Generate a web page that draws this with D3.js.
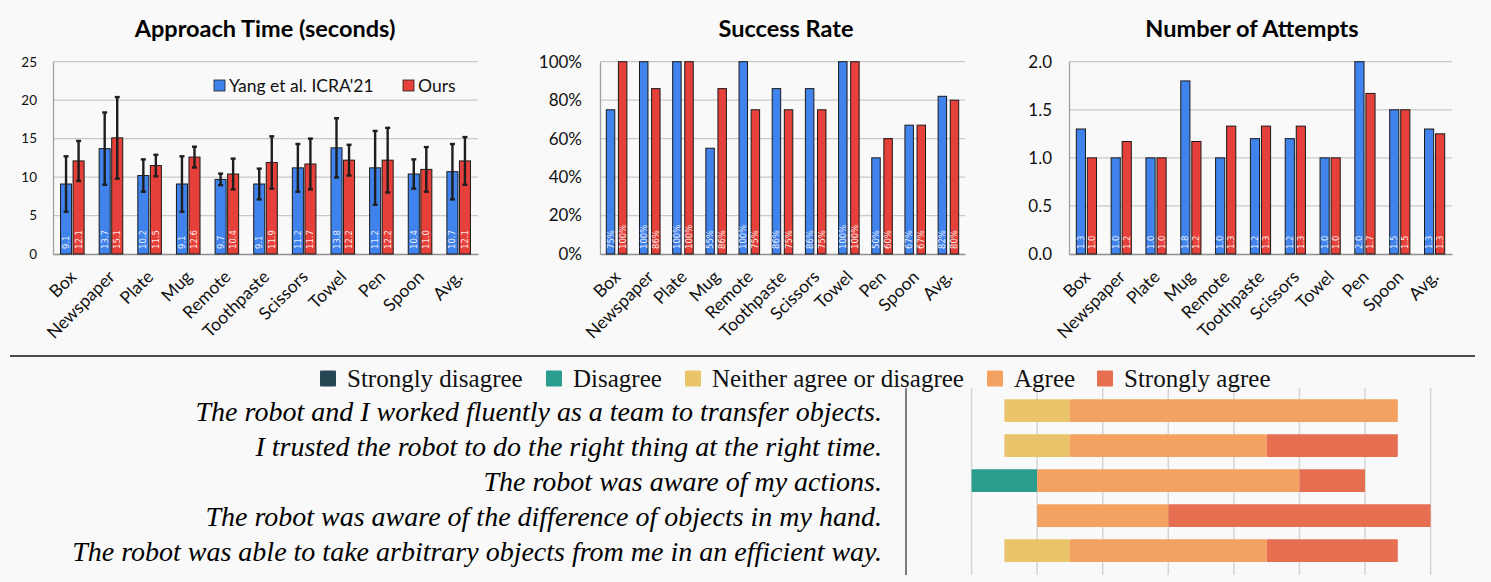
<!DOCTYPE html>
<html>
<head>
<meta charset="utf-8">
<script src="https://cdn.jsdelivr.net/npm/d3@7"></script>
<style>
  body { margin: 0; background: #f9f9f9; }
  svg { display: block; }
</style>
</head>
<body>
<div id="chart"></div>
<script>
// object categories shared by the three bar charts
var objects = ["Box", "Newspaper", "Plate", "Mug", "Remote", "Toothpaste", "Scissors", "Towel", "Pen", "Spoon", "Avg."];
var seriesNames = ["Yang et al. ICRA'21", "Ours"];

var timeYang = [9.1, 13.7, 10.2, 9.1, 9.7, 9.1, 11.2, 13.8, 11.2, 10.4, 10.7];
var timeOurs = [12.1, 15.1, 11.5, 12.6, 10.4, 11.9, 11.7, 12.2, 12.2, 11.0, 12.1];
var timeYangErr = [3.6, 4.7, 2.1, 3.6, 0.75, 2.0, 3.1, 3.85, 4.8, 1.9, 3.6];
var timeOursErr = [2.6, 5.3, 1.4, 1.35, 2.0, 3.4, 3.3, 2.0, 4.2, 2.9, 3.1];
var timeTicks = [0, 5, 10, 15, 20, 25];

var successYang = [75, 100, 100, 55, 100, 86, 86, 100, 50, 67, 82];
var successOurs = [100, 86, 100, 86, 75, 75, 75, 100, 60, 67, 80];
var successTicks = [0, 20, 40, 60, 80, 100];

var attemptsYang = [1.3, 1.0, 1.0, 1.8, 1.0, 1.2, 1.2, 1.0, 2.0, 1.5, 1.3];
var attemptsOurs = [1.0, 1.17, 1.0, 1.17, 1.33, 1.33, 1.33, 1.0, 1.67, 1.5, 1.25];
var attemptsTicks = [0, 0.5, 1.0, 1.5, 2.0];

// questionnaire (counts of participants)
var statements = [
    "The robot and I worked fluently as a team to transfer objects.",
    "I trusted the robot to do the right thing at the right time.",
    "The robot was aware of my actions.",
    "The robot was aware of the difference of objects in my hand.",
    "The robot was able to take arbitrary objects from me in an efficient way."
];
var likertLevels = ["Strongly disagree", "Disagree", "Neither agree or disagree", "Agree", "Strongly agree"];
var strongDisagree = [0, 0, 0, 0, 0];
var disagree = [0, 0, 1, 0, 0];
var neutral = [1, 1, 0, 0, 1];
var agree = [5, 3, 4, 2, 3];
var strongAgree = [0, 2, 1, 4, 2];
var likertTicks = [-1, 0, 1, 2, 3, 4, 5, 6];

var W = 1491, H = 582;
var blue = "#4083ec", red = "#e6403a";
var sans = "Lato, 'Open Sans', sans-serif";
var serif = "'Liberation Serif', 'Times New Roman', serif";

var svg = d3.select("#chart").append("svg")
    .attr("width", W)
    .attr("height", H);

svg.append("rect").attr("width", W).attr("height", H).attr("fill", "#f9f9f9");

var config = [{
        title: "Approach Time (seconds)", titleX: 265,
        left: 53, right: 478, yang: timeYang, ours: timeOurs,
        yangErr: timeYangErr, oursErr: timeOursErr,
        max: 25, ticks: timeTicks, tickFmt: d3.format("d"), tickSize: 13.5, tickPad: 16,
        labelFmt: d3.format(".1f"), padInner: 0.39, gap: 0.12, legend: true
    },
    {
        title: "Success Rate", titleX: 786,
        left: 600, right: 965, yang: successYang, ours: successOurs,
        max: 100, ticks: successTicks, tickFmt: function (d) { return d + "%"; }, tickSize: 17, tickPad: 18,
        labelFmt: function (d) { return d + "%"; }, padInner: 0.38, gap: 0.3, legend: false
    },
    {
        title: "Number of Attempts", titleX: 1252,
        left: 1069, right: 1452, yang: attemptsYang, ours: attemptsOurs,
        max: 2, ticks: attemptsTicks, tickFmt: d3.format(".1f"), tickSize: 17, tickPad: 17,
        labelFmt: d3.format(".1f"), padInner: 0.42, gap: 0.17, legend: false
    }
];

var top0 = 61.7, base = 254;

function drawBars(c) {
    var g = svg.append("g");

    var x = d3.scaleBand().domain(objects).range([c.left, c.right])
        .paddingInner(c.padInner).paddingOuter(c.padInner / 2);
    var x1 = d3.scaleBand().domain([0, 1]).range([0, x.bandwidth()]).paddingInner(c.gap);
    var y = d3.scaleLinear().domain([0, c.max]).range([base, top0]);

    // title
    g.append("text")
        .attr("x", c.titleX).attr("y", 37)
        .attr("text-anchor", "middle")
        .style("font-family", sans).style("font-weight", "bold").style("font-size", "23.5px")
        .attr("fill", "#000")
        .text(c.title);

    // grid
    g.selectAll(".grid").data(c.ticks.slice(1)).enter().append("line")
        .attr("x1", c.left).attr("x2", c.right)
        .attr("y1", function (d) { return y(d); }).attr("y2", function (d) { return y(d); })
        .attr("stroke", "#c9c9c9").attr("stroke-width", 1.3);

    // y axis
    var yAxis = g.append("g")
        .attr("transform", "translate(" + c.left + ",0)")
        .call(d3.axisLeft(y).tickValues(c.ticks).tickFormat(c.tickFmt).tickSize(0).tickPadding(c.tickPad));
    yAxis.select(".domain").attr("stroke", "#a0a0a0").attr("stroke-width", 1.3);
    yAxis.selectAll("text")
        .style("font-family", sans).style("font-size", c.tickSize + "px").attr("fill", "#111");

    // x axis
    var xAxis = g.append("g")
        .attr("transform", "translate(0," + base + ")")
        .call(d3.axisBottom(x).tickSize(0).tickPadding(0));
    xAxis.select(".domain").attr("stroke", "#909090").attr("stroke-width", 1.3);
    xAxis.selectAll("text")
        .style("font-family", sans).style("font-size", "17.5px").attr("fill", "#111")
        .attr("text-anchor", "end")
        .attr("dy", 0)
        .attr("transform", "translate(5,24) rotate(-45)");

    var series = [c.yang, c.ours];
    var errs = [c.yangErr, c.oursErr];
    var colors = [blue, red];

    series.forEach(function (vals, s) {
        var bars = g.append("g");
        bars.selectAll("rect").data(vals).enter().append("rect")
            .attr("x", function (d, i) { return x(objects[i]) + x1(s); })
            .attr("y", function (d) { return y(d); })
            .attr("width", x1.bandwidth())
            .attr("height", function (d) { return base - y(d); })
            .attr("fill", colors[s])
            .attr("stroke", "#1a1a1a").attr("stroke-width", 1);

        bars.selectAll("text").data(vals).enter().append("text")
            .attr("transform", function (d, i) {
                var cx = x(objects[i]) + x1(s) + x1.bandwidth() / 2 + 3;
                return "translate(" + cx + "," + (base - 5) + ") rotate(-90)";
            })
            .style("font-family", "'DejaVu Sans', sans-serif").style("font-size", "8.5px")
            .attr("fill", s === 0 ? "#e6edff" : "#ffe9e6")
            .text(function (d) { return c.labelFmt(d); });

        if (errs[s]) {
            var e = errs[s];
            var eb = g.append("g").attr("stroke", "#1e1e1e").attr("stroke-width", 2.4);
            vals.forEach(function (d, i) {
                var cx = x(objects[i]) + x1(s) + x1.bandwidth() / 2;
                eb.append("line").attr("x1", cx).attr("x2", cx)
                    .attr("y1", y(d + e[i])).attr("y2", y(d - e[i]));
                eb.append("line").attr("x1", cx - 2.5).attr("x2", cx + 2.5)
                    .attr("y1", y(d + e[i])).attr("y2", y(d + e[i]));
                eb.append("line").attr("x1", cx - 2.5).attr("x2", cx + 2.5)
                    .attr("y1", y(d - e[i])).attr("y2", y(d - e[i]));
            });
        }
    });

    if (c.legend) {
        var lg = g.append("g").style("font-family", sans).style("font-size", "17.5px");
        var lx = [214, 403];
        seriesNames.forEach(function (n, i) {
            lg.append("rect").attr("x", lx[i]).attr("y", 80).attr("width", 11).attr("height", 11)
                .attr("fill", colors[i]).attr("stroke", "#222").attr("stroke-width", 0.8);
            lg.append("text").attr("x", lx[i] + 15).attr("y", 91.5).attr("fill", "#111").text(n);
        });
    }
}

for (var c of config) {
    drawBars(c);
}

// divider
svg.append("line").attr("x1", 10).attr("x2", 1475).attr("y1", 356).attr("y2", 356)
    .attr("stroke", "#111").attr("stroke-width", 1.5);

// ---- likert chart ----
var likertColors = ["#264653", "#2a9d8f", "#e9c46a", "#f4a261", "#e76f51"];
var lx = d3.scaleLinear().domain([-2, 6]).range([906, 1430.6]);
var ly = d3.scaleBand().domain(statements).range([393, 568]).paddingInner(0.35).paddingOuter(0.175);

var lk = svg.append("g");

lk.selectAll(".lgrid").data(likertTicks).enter().append("line")
    .attr("x1", function (d) { return lx(d); }).attr("x2", function (d) { return lx(d); })
    .attr("y1", 388).attr("y2", 575)
    .attr("stroke", "#d4d4d4").attr("stroke-width", 1.5);

lk.append("line").attr("x1", lx(-2)).attr("x2", lx(-2)).attr("y1", 388).attr("y2", 575)
    .attr("stroke", "#555").attr("stroke-width", 1.5);

var counts = [strongDisagree, disagree, neutral, agree, strongAgree];
statements.forEach(function (st, i) {
    var start = -(strongDisagree[i] + disagree[i] + neutral[i] / 2);
    var acc = start;
    counts.forEach(function (arr, k) {
        var v = arr[i];
        if (v > 0) {
            lk.append("rect")
                .attr("x", lx(acc)).attr("y", ly(st))
                .attr("width", lx(acc + v) - lx(acc)).attr("height", ly.bandwidth())
                .attr("rx", 1)
                .attr("fill", likertColors[k]);
        }
        acc += v;
    });
    lk.append("text")
        .attr("x", 882).attr("y", ly(st) + ly.bandwidth() / 2 + 10)
        .attr("text-anchor", "end")
        .style("font-family", serif).style("font-style", "italic").style("font-size", "28px")
        .attr("fill", "#000")
        .text(st);
});

// likert legend
var legX = [320, 546, 685, 987, 1097];
likertLevels.forEach(function (n, k) {
    lk.append("rect").attr("x", legX[k]).attr("y", 370.5).attr("width", 16).attr("height", 16)
        .attr("rx", 1).attr("fill", likertColors[k]);
    lk.append("text").attr("x", legX[k] + 27).attr("y", 386.7)
        .style("font-family", serif).style("font-size", "25px").attr("fill", "#111")
        .text(n);
});
</script>
</body>
</html>
